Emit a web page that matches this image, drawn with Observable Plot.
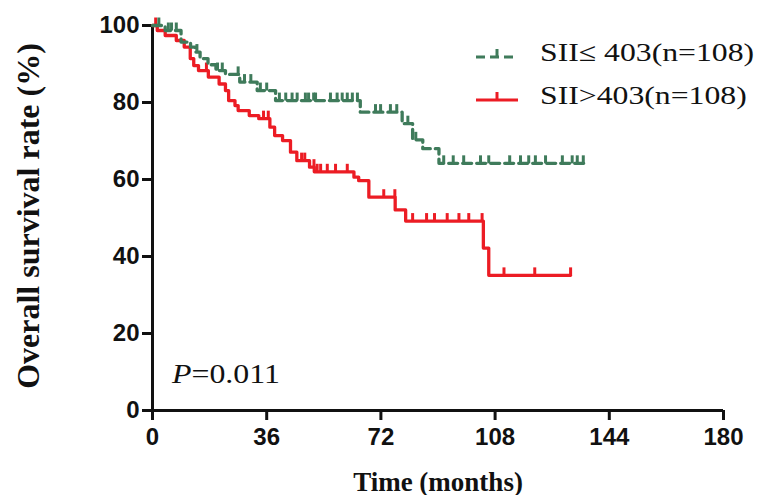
<!DOCTYPE html>
<html><head><meta charset="utf-8">
<script src="https://cdn.jsdelivr.net/npm/d3@7"></script>
<script src="https://cdn.jsdelivr.net/npm/@observablehq/plot@0.6"></script>
<style>
body{margin:0;background:#fff}
#wrap{position:relative;width:758px;height:495px}
.serif{font-family:"Liberation Serif","Times New Roman",serif;color:#111}
#legend{position:absolute;left:474px;top:31px}
.row{display:flex;align-items:center;height:43px;font-size:26px}
.row svg{margin-right:20px}
.row span{display:inline-block;transform:scaleX(1.22);transform-origin:left center}
#pval{position:absolute;left:172px;top:359px;font-size:27px;transform:scaleX(1.18);transform-origin:left center}
</style>
</head><body><div id="wrap"></div>
<script>
// ---- data ----
const xTicks = [0, 36, 72, 108, 144, 180];
const yTicks = [0, 20, 40, 60, 80, 100];
const seriesNames = ["SII\u2264 403(n=108)", "SII>403(n=108)"];
const colors = ["#3f7b5b", "#ec1c24"];

// SII <= 403 (step points: time in months, survival %)
const lowTime = [0, 4, 9, 12, 13.5, 15, 17.5, 20, 23, 27.5, 33, 38.8, 65.5, 78.7, 82, 85.2, 90.3];
const lowSurv = [100, 98.7, 95.7, 94.4, 93.1, 91.4, 89.8, 88.3, 87.3, 85.3, 83.1, 80.5, 77.5, 74.5, 70.3, 68, 64.2];
const lowEnd = 136;
const lowCensor = [2, 5, 6, 7.5, 14, 20.5, 22, 27, 29, 31, 34, 36, 40, 42, 44, 45.6, 48.2, 49.2, 50.8, 51.4, 56.1, 58.2, 59.8, 61.4, 63, 64.6, 70.3, 71.9, 75, 77, 80.5, 83, 91.8, 94.8, 98.1, 103.4, 106, 112.6, 116, 118.6, 120.7, 123.9, 129.2, 132.3, 133.9, 135.8];

// SII > 403
const highTime = [0, 1.5, 4, 7.5, 10, 11.9, 13, 14.5, 17.6, 21, 23, 24, 26, 27, 30.5, 33.5, 37, 38.5, 41, 43.5, 45.5, 49.5, 51, 63.5, 65, 68.2, 76.5, 79.8, 104.3, 106];
const highSurv = [100, 98.7, 97.4, 96.1, 94.4, 91.4, 89.6, 88.3, 86.6, 84.8, 83.1, 80.5, 79.2, 77.9, 76.6, 75.8, 73.6, 71.4, 70.1, 67.1, 64.9, 63.2, 62, 60.6, 59.7, 55.4, 52.1, 49.2, 42.2, 35.1];
const highEnd = 131.8;
const highCensor = [1, 17, 35, 36.5, 47, 48, 50.9, 51.9, 53, 55.1, 57.7, 61.4, 72.9, 76.4, 82, 86.4, 88.9, 92.9, 96.6, 99.7, 103.9, 110.8, 120.5, 131.8];

// ---- build ----
function stepAt(times, survs, t) {
  let v = survs[0];
  for (let i = 0; i < times.length; i++) if (times[i] <= t) v = survs[i];
  return v;
}
function lineData(times, survs, end) {
  const d = times.map((t, i) => ({t, s: survs[i]}));
  d.push({t: end, s: survs[survs.length - 1]});
  return d;
}
const lowLine = lineData(lowTime, lowSurv, lowEnd);
const highLine = lineData(highTime, highSurv, highEnd);
const lowC = lowCensor.map(t => ({t, s: stepAt(lowTime, lowSurv, t)}));
const highC = highCensor.map(t => ({t, s: stepAt(highTime, highSurv, t)}));

const tickSymbol = {draw(ctx) { ctx.moveTo(0, 0); ctx.lineTo(0, -8); }};
const sans = "Liberation Sans, Arial, sans-serif";
const serif = "Liberation Serif, Times New Roman, serif";

const chart = Plot.plot({
  width: 758, height: 495,
  marginLeft: 152, marginRight: 35, marginTop: 25, marginBottom: 85,
  style: {background: "#fff", color: "#111"},
  x: {domain: [0, 180]},
  y: {domain: [0, 100]},
  marks: [
    Plot.axisX({ticks: xTicks, tickSize: 10, tickPadding: 7, strokeWidth: 3, fontSize: 24, fontWeight: "bold", fontFamily: sans, label: null}),
    Plot.axisY({ticks: yTicks, tickSize: 10, tickPadding: 3, strokeWidth: 3, fontSize: 24, fontWeight: "bold", fontFamily: sans, label: null}),
    Plot.ruleY([0], {strokeWidth: 3}),
    Plot.ruleX([0], {strokeWidth: 3}),
    Plot.line(highLine, {x: "t", y: "s", curve: "step-after", stroke: colors[1], strokeWidth: 3.3}),
    Plot.dot(highC, {x: "t", y: "s", symbol: tickSymbol, stroke: colors[1], strokeWidth: 3, fill: "none"}),
    Plot.line(lowLine, {x: "t", y: "s", curve: "step-after", stroke: colors[0], strokeWidth: 3.3, strokeDasharray: "9,5"}),
    Plot.dot(lowC, {x: "t", y: "s", symbol: tickSymbol, stroke: colors[0], strokeWidth: 3, fill: "none"}),
    Plot.text(["Time (months)"], {frameAnchor: "bottom", textAnchor: "middle", dy: 80, fontSize: 27, fontWeight: "bold", fontFamily: serif, fill: "#111"}),
    Plot.text(["Overall survival rate (%)"], {frameAnchor: "left", textAnchor: "middle", dx: -124, dy: -2, rotate: -90, fontSize: 32, fontWeight: "bold", fontFamily: serif, fill: "#111"})
  ]
});
const wrap = document.getElementById("wrap");
wrap.appendChild(chart);

// legend
const legend = document.createElement("div");
legend.id = "legend";
legend.className = "serif";
seriesNames.forEach((name, i) => {
  const row = document.createElement("div");
  row.className = "row";
  const dash = i === 0 ? 'stroke-dasharray="9,5"' : '';
  row.innerHTML = `<svg width="46" height="20"><line x1="2" y1="14" x2="44" y2="14" stroke="${colors[i]}" stroke-width="3" ${dash}/><line x1="23" y1="14" x2="23" y2="6" stroke="${colors[i]}" stroke-width="3"/></svg><span>${name}</span>`;
  legend.appendChild(row);
});
wrap.appendChild(legend);

const p = document.createElement("div");
p.id = "pval";
p.className = "serif";
p.innerHTML = "<i>P</i>=0.011";
wrap.appendChild(p);
</script>
</body></html>
